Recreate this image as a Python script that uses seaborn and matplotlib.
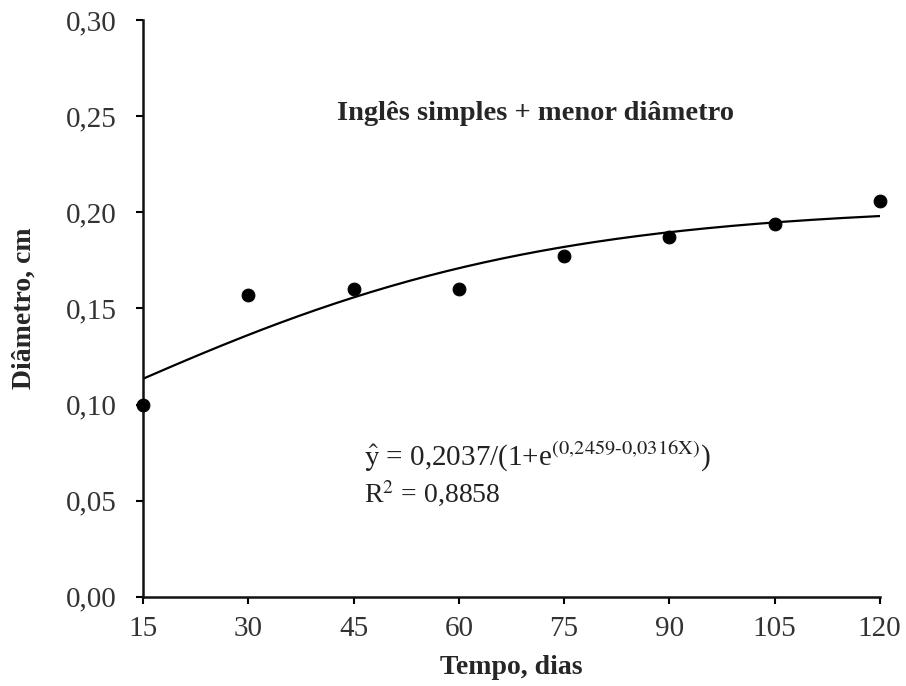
import numpy as np
import pandas as pd
import matplotlib
matplotlib.use("Agg")
import matplotlib.pyplot as plt
import seaborn as sns

# Observed data
dias = [15, 30, 45, 60, 75, 90, 105, 120]
diametro = [0.100, 0.157, 0.160, 0.160, 0.177, 0.187, 0.194, 0.206]

# Fitted model coefficients (from the equation on the chart)
a_coef = 0.2037
b_coef = 0.2459
c_coef = 0.0316

y_ticks = [0.00, 0.05, 0.10, 0.15, 0.20, 0.25, 0.30]
y_tick_labels = ["0,00", "0,05", "0,10", "0,15", "0,20", "0,25", "0,30"]
x_tick_labels = ["15", "30", "45", "60", "75", "90", "105", "120"]

sns.set_style("white")
plt.rcParams["font.family"] = ["Liberation Serif", "DejaVu Serif"]
plt.rcParams["mathtext.fontset"] = "stix"

df = pd.DataFrame({"Tempo": dias, "Diametro": diametro})
x_fit = np.linspace(min(dias), max(dias), 200)
df_fit = pd.DataFrame({"Tempo": x_fit,
                       "Ajuste": a_coef / (1 + np.exp(b_coef - c_coef * x_fit))})

fig = plt.figure(figsize=(9.06, 6.86), dpi=100)
ax = fig.add_axes([0.158, 0.130, 0.813, 0.841])

sns.lineplot(data=df_fit, x="Tempo", y="Ajuste", ax=ax, color="black", linewidth=1.6)
sns.scatterplot(data=df, x="Tempo", y="Diametro", ax=ax, color="black", s=85,
                edgecolor="black", zorder=5, clip_on=False)

ax.set_xlim(15, 120)
ax.set_ylim(0, 0.30)
ax.set_xticks(dias)
ax.set_xticklabels(x_tick_labels)
ax.set_yticks(y_ticks)
ax.set_yticklabels(y_tick_labels)
ax.tick_params(axis="both", direction="out", length=5, width=1.5, labelsize=21,
               colors="black", labelcolor="#333333", bottom=True, left=True)
ax.tick_params(axis="y", pad=14)
ax.tick_params(axis="x", pad=9)

for side in ["top", "right"]:
    ax.spines[side].set_visible(False)
for side in ["left", "bottom"]:
    ax.spines[side].set_linewidth(1.8)
    ax.spines[side].set_color("#111111")

ax.set_xlabel("Tempo, dias", fontsize=20, fontweight="bold", labelpad=9)
ax.set_ylabel("Diâmetro, cm", fontsize=20, fontweight="bold", labelpad=21)

ax.text(71, 0.2515, "Inglês simples + menor diâmetro", fontsize=20.5,
        fontweight="bold", ha="center", va="center")
ax.text(46.5, 0.0725,
        r"$\hat{\mathrm{y}}$ = 0,2037/(1+e$^{(0{,}2459\text{-}0{,}0316\mathrm{X})}$)",
        fontsize=21, ha="left", va="center", color="#222222")
ax.text(46.5, 0.0535, r"R$^2$ = 0,8858", fontsize=20, ha="left", va="center",
        color="#222222")

plt.savefig("out.png", dpi=100)
